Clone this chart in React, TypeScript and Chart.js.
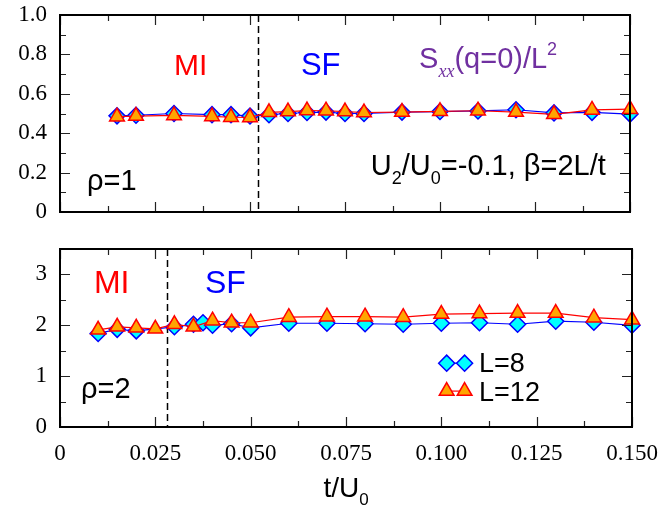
import React, { useEffect, useRef } from 'react';
import { Chart, registerables } from 'chart.js';

Chart.register(...registerables);

// ---------- data ----------
const xTickValues = [0, 0.025, 0.05, 0.075, 0.1, 0.125, 0.15];
const xTickLabels = ['0', '0.025', '0.050', '0.075', '0.100', '0.125', '0.150'];
const xMinorTicks = [0, 0.0125, 0.025, 0.0375, 0.05, 0.0625, 0.075, 0.0875, 0.1, 0.1125, 0.125, 0.1375, 0.15];

const yTicksTop = [0, 0.2, 0.4, 0.6, 0.8, 1.0];
const yMinorTop = [0.1, 0.2, 0.3, 0.4, 0.5, 0.6, 0.7, 0.8, 0.9];
const yTicksBottom = [0, 1, 2, 3];
const yMinorBottom = [0.5, 1, 1.5, 2, 2.5, 3];

// rho = 1 panel
const topL8X = [0.015, 0.02, 0.03, 0.04, 0.045, 0.05, 0.055, 0.06, 0.065, 0.07, 0.075, 0.08, 0.09, 0.1, 0.11, 0.12, 0.13, 0.14, 0.15];
const topL8Y = [0.488, 0.491, 0.5, 0.494, 0.494, 0.487, 0.494, 0.5, 0.505, 0.507, 0.5, 0.5, 0.507, 0.51, 0.513, 0.519, 0.503, 0.506, 0.497];
const topL12X = [0.015, 0.02, 0.03, 0.04, 0.045, 0.05, 0.055, 0.06, 0.065, 0.07, 0.075, 0.08, 0.09, 0.1, 0.11, 0.12, 0.13, 0.14, 0.15];
const topL12Y = [0.484, 0.487, 0.49, 0.485, 0.481, 0.48, 0.506, 0.51, 0.515, 0.514, 0.51, 0.505, 0.507, 0.511, 0.514, 0.507, 0.496, 0.518, 0.522];

// rho = 2 panel
const botL8X = [0.01, 0.015, 0.02, 0.03, 0.035, 0.0375, 0.04, 0.045, 0.05, 0.06, 0.07, 0.08, 0.09, 0.1, 0.11, 0.12, 0.13, 0.14, 0.15];
const botL8Y = [1.84, 1.92, 1.89, 1.97, 2.02, 2.05, 2.0, 2.03, 1.95, 2.04, 2.04, 2.03, 2.02, 2.04, 2.05, 2.02, 2.08, 2.06, 2.0];
const botL12X = [0.01, 0.015, 0.02, 0.025, 0.03, 0.035, 0.04, 0.045, 0.05, 0.06, 0.07, 0.08, 0.09, 0.1, 0.11, 0.12, 0.13, 0.14, 0.15];
const botL12Y = [1.91, 1.97, 1.95, 1.93, 2.02, 1.97, 2.09, 2.05, 2.05, 2.16, 2.17, 2.17, 2.16, 2.22, 2.23, 2.24, 2.24, 2.15, 2.11];

const transitionTop = 0.052;
const transitionBottom = 0.028;

// ---------- styles ----------
const SANS = '"Liberation Sans", Arial, Helvetica, sans-serif';
const SERIF = '"Liberation Serif", "Times New Roman", serif';

type Seg = { t: string; sub?: boolean; sup?: boolean; italic?: boolean; serif?: boolean };
type Txt = { x: number; y: number; segs: Seg[]; size: number; color: string };

function segFont(s: Seg, size: number) {
  const sz = s.sub || s.sup ? Math.round(size * 0.62) : size;
  return `${s.italic ? 'italic ' : ''}${sz}px ${s.serif ? SERIF : SANS}`;
}

function drawRich(ctx: CanvasRenderingContext2D, segs: Seg[], x: number, y: number, size: number, color: string, align = 'left') {
  ctx.save();
  ctx.fillStyle = color;
  ctx.textBaseline = 'alphabetic';
  ctx.textAlign = 'left';
  let total = 0;
  const widths = segs.map((s) => {
    ctx.font = segFont(s, size);
    const w = ctx.measureText(s.t).width;
    total += w;
    return w;
  });
  let cx = align === 'center' ? x - total / 2 : x;
  segs.forEach((s, i) => {
    ctx.font = segFont(s, size);
    const dy = s.sub ? size * 0.3 : s.sup ? -size * 0.45 : 0;
    ctx.fillText(s.t, cx, y + dy);
    cx += widths[i];
  });
  ctx.restore();
}

function diamondPath(ctx: CanvasRenderingContext2D, x: number, y: number, r: number) {
  ctx.beginPath();
  ctx.moveTo(x - r, y);
  ctx.lineTo(x, y - r);
  ctx.lineTo(x + r, y);
  ctx.lineTo(x, y + r);
  ctx.closePath();
}

function trianglePath(ctx: CanvasRenderingContext2D, x: number, y: number, r: number) {
  ctx.beginPath();
  ctx.moveTo(x, y - r);
  ctx.lineTo(x + r * Math.sin((2 * Math.PI) / 3), y - r * Math.cos((2 * Math.PI) / 3));
  ctx.lineTo(x + r * Math.sin((4 * Math.PI) / 3), y - r * Math.cos((4 * Math.PI) / 3));
  ctx.closePath();
}

const L8 = { fill: '#00ffff', stroke: '#0000ff' };
const L12 = { fill: '#ffa500', stroke: '#ff0000' };

type PanelCfg = {
  dashX: number;
  yMinor: number[];
  yMajor: number[];
  texts: Txt[];
  legend?: boolean;
  xTitle?: boolean;
};

function panelPlugin(p: PanelCfg) {
  return {
    id: 'panelDecor',
    beforeDatasetsDraw(chart: any) {
      const { ctx, chartArea: a, scales } = chart;
      const px = Math.round(scales.x.getPixelForValue(p.dashX)) + 0.5;
      ctx.save();
      ctx.strokeStyle = '#000';
      ctx.lineWidth = 1.5;
      ctx.setLineDash([7, 4]);
      ctx.beginPath();
      ctx.moveTo(px, a.top);
      ctx.lineTo(px, a.bottom);
      ctx.stroke();
      ctx.restore();
    },
    afterDatasetsDraw(chart: any) {
      const { ctx, chartArea: a, scales } = chart;
      const xs = scales.x;
      const ys = scales.y;
      ctx.save();
      ctx.strokeStyle = '#222';
      ctx.lineWidth = 1.2;
      ctx.beginPath();
      xMinorTicks.forEach((v, i) => {
        const px = Math.round(xs.getPixelForValue(v)) + 0.5;
        const len = i % 2 === 0 ? 10 : 6;
        ctx.moveTo(px, a.bottom);
        ctx.lineTo(px, a.bottom - len);
        ctx.moveTo(px, a.top);
        ctx.lineTo(px, a.top + len);
      });
      p.yMinor.forEach((v) => {
        const py = Math.round(ys.getPixelForValue(v)) + 0.5;
        const major = p.yMajor.some((m) => Math.abs(m - v) < 1e-9);
        const len = major ? 10 : 6;
        ctx.moveTo(a.left, py);
        ctx.lineTo(a.left + len, py);
        ctx.moveTo(a.right, py);
        ctx.lineTo(a.right - len, py);
      });
      ctx.stroke();
      // frame
      ctx.strokeStyle = '#000';
      ctx.lineWidth = 2;
      ctx.strokeRect(a.left, a.top, a.right - a.left, a.bottom - a.top);
      ctx.restore();

      p.texts.forEach((t) => {
        drawRich(ctx, t.segs, xs.getPixelForValue(t.x), ys.getPixelForValue(t.y), t.size, t.color);
      });

      if (p.legend) {
        const rows = [
          { st: L8, label: 'L=8', y: 1.255, base: 1.078, shape: 'd' },
          { st: L12, label: 'L=12', y: 0.706, base: 0.51, shape: 't' },
        ];
        const x1 = xs.getPixelForValue(0.1014);
        const x2 = xs.getPixelForValue(0.1061);
        const xt = xs.getPixelForValue(0.1099);
        rows.forEach((r) => {
          const py = ys.getPixelForValue(r.y);
          ctx.save();
          ctx.strokeStyle = r.st.stroke;
          ctx.lineWidth = 1.2;
          ctx.beginPath();
          ctx.moveTo(x1, py);
          ctx.lineTo(x2, py);
          ctx.stroke();
          [x1, x2].forEach((sx) => {
            if (r.shape === 'd') diamondPath(ctx, sx, py, 8);
            else trianglePath(ctx, sx, py, 8.5);
            ctx.fillStyle = r.st.fill;
            ctx.fill();
            ctx.lineWidth = 1.5;
            ctx.strokeStyle = r.st.stroke;
            ctx.stroke();
          });
          ctx.restore();
          drawRich(ctx, [{ t: r.label }], xt, ys.getPixelForValue(r.base), 27, '#000');
        });
      }

      if (p.xTitle) {
        drawRich(ctx, [{ t: 't/U' }, { t: '0', sub: true }], (a.left + a.right) / 2, a.bottom + 70, 28, '#000', 'center');
      }
    },
  };
}

const topTexts: Txt[] = [
  { x: 0.03, y: 0.695, segs: [{ t: 'MI' }], size: 30, color: '#ff0000' },
  { x: 0.0634, y: 0.695, segs: [{ t: 'SF' }], size: 31, color: '#0000ff' },
  {
    x: 0.0945,
    y: 0.731,
    segs: [{ t: 'S' }, { t: 'xx', sub: true, italic: true, serif: true }, { t: '(q=0)/L' }, { t: '2', sup: true }],
    size: 29,
    color: '#7030a0',
  },
  { x: 0.0071, y: 0.112, segs: [{ t: 'ρ=1' }], size: 29, color: '#000' },
  {
    x: 0.0818,
    y: 0.188,
    segs: [{ t: 'U' }, { t: '2', sub: true }, { t: '/U' }, { t: '0', sub: true }, { t: '=-0.1, β=2L/t' }],
    size: 29,
    color: '#000',
  },
];

const bottomTexts: Txt[] = [
  { x: 0.0089, y: 2.63, segs: [{ t: 'MI' }], size: 32, color: '#ff0000' },
  { x: 0.038, y: 2.63, segs: [{ t: 'SF' }], size: 32, color: '#0000ff' },
  { x: 0.0055, y: 0.57, segs: [{ t: 'ρ=2' }], size: 29, color: '#000' },
];

function makeDatasets(l8x: number[], l8y: number[], l12x: number[], l12y: number[]) {
  return [
    {
      label: 'L=8',
      data: l8x.map((x, i) => ({ x, y: l8y[i] })),
      borderColor: L8.stroke,
      borderWidth: 1.2,
      backgroundColor: L8.fill,
      pointStyle: 'rectRot',
      pointRadius: 8,
      pointBorderWidth: 1.5,
      pointBorderColor: L8.stroke,
      pointBackgroundColor: L8.fill,
      tension: 0,
      clip: false,
      order: 2,
    },
    {
      label: 'L=12',
      data: l12x.map((x, i) => ({ x, y: l12y[i] })),
      borderColor: L12.stroke,
      borderWidth: 1.2,
      backgroundColor: L12.fill,
      pointStyle: 'triangle',
      pointRadius: 8.5,
      pointBorderWidth: 1.5,
      pointBorderColor: L12.stroke,
      pointBackgroundColor: L12.fill,
      tension: 0,
      clip: false,
      order: 1,
    },
  ];
}

const yTickFont = { family: SERIF, size: 23 };

function noPad(s: any) {
  s.paddingTop = 0;
  s.paddingBottom = 0;
  s.paddingLeft = 0;
  s.paddingRight = 0;
}

export default function App() {
  const topRef = useRef<HTMLCanvasElement>(null);
  const botRef = useRef<HTMLCanvasElement>(null);

  useEffect(() => {
    const c1 = new Chart(topRef.current as HTMLCanvasElement, {
      type: 'line',
      data: { datasets: makeDatasets(topL8X, topL8Y, topL12X, topL12Y) as any },
      options: {
        animation: false,
        responsive: false,
        devicePixelRatio: 1,
        events: [],
        layout: { padding: { left: 10, right: 30, top: 15, bottom: 18 } },
        plugins: { legend: { display: false }, tooltip: { enabled: false } },
        scales: {
          x: { type: 'linear', min: 0, max: 0.15, display: false },
          y: {
            type: 'linear',
            min: 0,
            max: 1,
            afterFit: (s: any) => {
              s.width = 50;
              noPad(s);
            },
            afterBuildTicks: (s: any) => {
              s.ticks = yTicksTop.map((v) => ({ value: v }));
            },
            grid: { display: false, drawTicks: false },
            border: { display: false },
            ticks: {
              font: yTickFont,
              color: '#000',
              padding: 13,
              callback: (v: any) => (v === 0 ? '0' : Number(v).toFixed(1)),
            },
          },
        },
      } as any,
      plugins: [panelPlugin({ dashX: transitionTop, yMinor: yMinorTop, yMajor: yTicksTop, texts: topTexts })],
    });

    const c2 = new Chart(botRef.current as HTMLCanvasElement, {
      type: 'line',
      data: { datasets: makeDatasets(botL8X, botL8Y, botL12X, botL12Y) as any },
      options: {
        animation: false,
        responsive: false,
        devicePixelRatio: 1,
        events: [],
        layout: { padding: { left: 10, right: 28, top: 19, bottom: 0 } },
        plugins: { legend: { display: false }, tooltip: { enabled: false } },
        scales: {
          x: {
            type: 'linear',
            min: 0,
            max: 0.15,
            afterFit: (s: any) => {
              s.height = 83;
              noPad(s);
            },
            afterBuildTicks: (s: any) => {
              s.ticks = xTickValues.map((v) => ({ value: v }));
            },
            grid: { display: false, drawTicks: false },
            border: { display: false },
            ticks: {
              font: yTickFont,
              color: '#000',
              padding: 13,
              maxRotation: 0,
              autoSkip: false,
              callback: (_v: any, i: number) => xTickLabels[i],
            },
          },
          y: {
            type: 'linear',
            min: 0,
            max: 3.5,
            afterFit: (s: any) => {
              s.width = 50;
              noPad(s);
            },
            afterBuildTicks: (s: any) => {
              s.ticks = yTicksBottom.map((v) => ({ value: v }));
            },
            grid: { display: false, drawTicks: false },
            border: { display: false },
            ticks: {
              font: yTickFont,
              color: '#000',
              padding: 13,
              callback: (v: any) => String(v),
            },
          },
        },
      } as any,
      plugins: [
        panelPlugin({
          dashX: transitionBottom,
          yMinor: yMinorBottom,
          yMajor: yTicksBottom,
          texts: bottomTexts,
          legend: true,
          xTitle: true,
        }),
      ],
    });

    return () => {
      c1.destroy();
      c2.destroy();
    };
  }, []);

  return (
    <div style={{ position: 'absolute', left: 0, top: 0, width: 660, height: 510, background: '#fff' }}>
      <canvas ref={topRef} width={660} height={230} style={{ position: 'absolute', left: 0, top: 0 }} />
      <canvas ref={botRef} width={660} height={280} style={{ position: 'absolute', left: 0, top: 230 }} />
    </div>
  );
}
